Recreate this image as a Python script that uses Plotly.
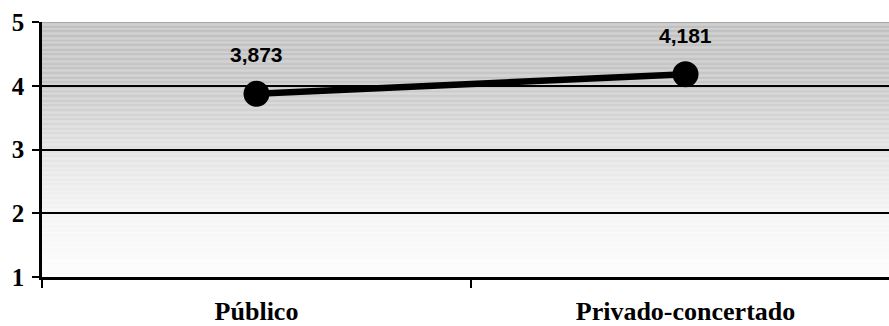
import numpy as np
import plotly.graph_objects as go

# Mean score by type of school
categories = ["Público", "Privado-concertado"]
values = [3.873, 4.181]
y_ticks = [1, 2, 3, 4, 5]

labels = [f"{v:.3f}".replace(".", ",") for v in values]

fig = go.Figure()

fig.add_trace(go.Scatter(
    x=categories,
    y=values,
    mode="lines+markers",
    line=dict(color="black", width=6.5),
    marker=dict(color="black", size=26),
    hoverinfo="skip",
    showlegend=False,
))

# Vertical grey-to-white gradient behind the plot, built from thin bands
grad_y = [1.0, 2.0, 3.0, 4.0, 5.0]
grad_c = [253, 244, 226, 199, 192]
shapes = []
n_bands = 200
for i in range(n_bands):
    a = 1.0 + 4.0 * i / n_bands
    b = 1.0 + 4.0 * (i + 1) / n_bands
    c = int(round(np.interp((a + b) / 2, grad_y, grad_c)))
    shapes.append(dict(
        type="rect", xref="paper", yref="y", x0=0, x1=1, y0=a, y1=b,
        fillcolor=f"rgb({c},{c},{c})", line=dict(width=0), layer="below",
    ))
# thin grey border along the top of the plot area
shapes.append(dict(
    type="line", xref="paper", yref="y", x0=0, x1=1, y0=5, y1=5,
    line=dict(color="rgb(160,160,160)", width=1.5), layer="above",
))

annotations = [
    dict(
        x=c, y=v, text=f"<b>{t}</b>", showarrow=False, yshift=39,
        font=dict(family="Liberation Sans", size=21, color="black"),
    )
    for c, v, t in zip(categories, values, labels)
]

fig.update_layout(
    width=889,
    height=326,
    margin=dict(l=42, r=0, t=22, b=49),
    paper_bgcolor="white",
    plot_bgcolor="white",
    shapes=shapes,
    annotations=annotations,
    xaxis=dict(
        type="category",
        automargin=False,
        range=[-0.5, 1.5 - 11 / 429],
        tickson="boundaries",
        ticks="outside",
        ticklen=8,
        tickwidth=2,
        tickcolor="black",
        showgrid=False,
        showline=True,
        linecolor="black",
        linewidth=2.5,
        ticklabelstandoff=9,
        tickfont=dict(family="Liberation Serif", size=26, color="black"),
        tickprefix="<b>", ticksuffix="</b>",
    ),
    yaxis=dict(
        automargin=False,
        range=[1, 5],
        tickvals=y_ticks,
        ticktext=[f"<b>{v}</b>" for v in y_ticks],
        ticks="outside",
        ticklen=7,
        tickwidth=2,
        tickcolor="black",
        showgrid=True,
        gridcolor="black",
        gridwidth=2,
        zeroline=False,
        showline=True,
        linecolor="black",
        linewidth=2.5,
        ticklabelstandoff=3,
        tickfont=dict(family="Liberation Serif", size=25, color="black"),
    ),
)

fig.write_html("out.html")
